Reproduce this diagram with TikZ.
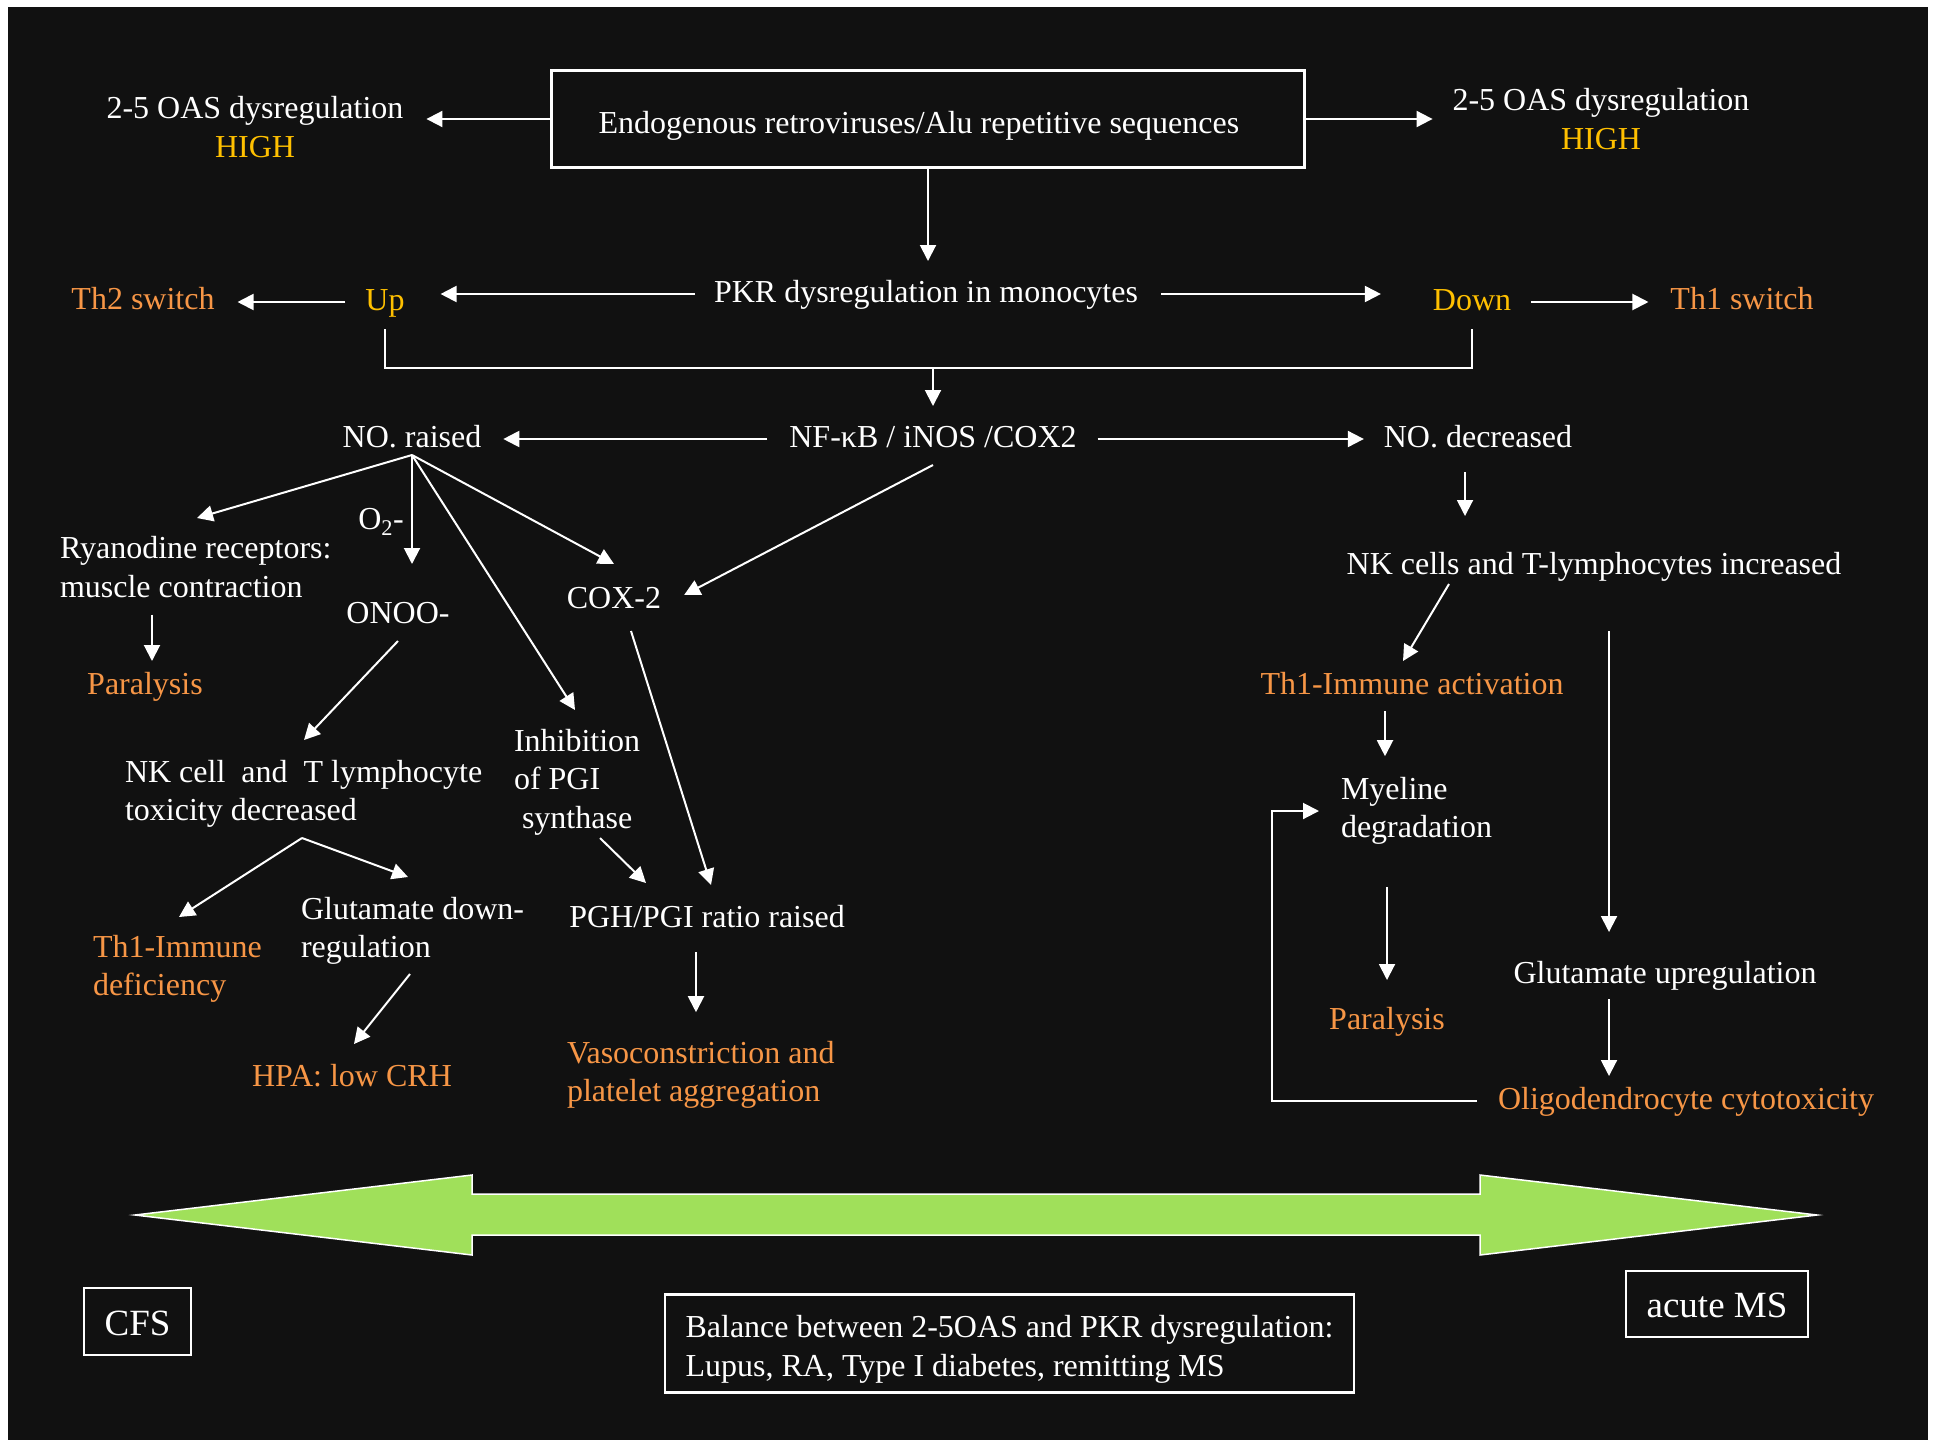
\documentclass[tikz,border=0pt]{standalone}
\usepackage{fontspec}
\setmainfont{Liberation Serif}
\usetikzlibrary{arrows.meta}

\definecolor{bg}{HTML}{111111}
\definecolor{gold}{HTML}{FFC000}
\definecolor{orng}{HTML}{F79646}
\definecolor{lime}{HTML}{A0E05A}

\begin{document}
\begin{tikzpicture}[
            x = 1pt, y = -1pt, % pixel grid, y goes down
            > = {Triangle[length=16pt, width=16pt]}, % arrow head style
            line width = 2pt,
            white,
            every node/.style = {font=\fontsize{32}{38.5}\selectfont, text=white, inner sep=0pt}
        ]

        \tikzstyle{lbl}=[text height=23pt, text depth=7pt]
        \tikzstyle{hot}=[text=orng]
        \tikzstyle{box}=[draw=white, line width=2.2pt]

        \fill[white] (0,0) rectangle (1937,1440);
        \fill[bg] (8,7) rectangle (1928,1440);

        % top
        \node[box, align=flush left, text width=659pt, inner xsep=47pt, minimum height=97pt, text height=35pt, text depth=7pt] (ERV) at (928,119) {Endogenous retroviruses/Alu repetitive sequences};
        \node[align=center] (OASl) at (255,127) {2-5 OAS dysregulation\\\textcolor{gold}{HIGH}};
        \node[align=center] (OASr) at (1601,119) {2-5 OAS dysregulation\\\textcolor{gold}{HIGH}};
        \node[lbl] (PKR) at (926,294) {PKR dysregulation in monocytes};
        \node[lbl, text=gold] (Up) at (385,302) {Up};
        \node[lbl, text=gold] (Down) at (1472,302) {Down};
        \node[lbl, hot] (Th2) at (143,301) {Th2 switch};
        \node[lbl, hot] (Th1) at (1742,301) {Th1 switch};

        % middle row
        \node[lbl] (NF) at (933,439) {NF-κB / iNOS /COX2};
        \node[lbl] (NOr) at (412,439) {NO. raised};
        \node[lbl] (NOd) at (1478,439) {NO. decreased};

        % left branch
        \node[align=left, anchor=west] (RyR) at (59,567) {Ryanodine receptors:\\muscle contraction};
        \node[lbl, hot] (Par1) at (145,686) {Paralysis};
        \node[lbl] (O2) at (381,521) {O\textsubscript{2}-};
        \node[lbl] (ONOO) at (398,615) {ONOO-};
        \node[align=left, anchor=west] (NK1) at (124,794) {NK cell\ \ and\ \ T lymphocyte\\toxicity decreased};
        \node[align=left, anchor=west, hot] (Th1d) at (92,969) {Th1-Immune\\deficiency};
        \node[align=left, anchor=west] (GluD) at (300,931) {Glutamate down-\\regulation};
        \node[lbl, hot] (HPA) at (352,1078) {HPA: low CRH};
        \node[align=left, anchor=west] (Inh) at (513,782) {Inhibition\\of PGI\\\hspace*{8pt}synthase};
        \node[lbl] (COX) at (614,600) {COX-2};
        \node[lbl] (PGH) at (707,919) {PGH/PGI ratio raised};
        \node[align=left, anchor=west, hot] (Vaso) at (566,1075) {Vasoconstriction and\\platelet aggregation};

        % right branch
        \node[lbl] (NK2) at (1594,566) {NK cells and T-lymphocytes increased};
        \node[lbl, hot] (Th1a) at (1412,686) {Th1-Immune activation};
        \node[align=left, anchor=west] (Mye) at (1340,811) {Myeline\\degradation};
        \node[lbl, hot] (Par2) at (1387,1021) {Paralysis};
        \node[lbl] (GluU) at (1665,975) {Glutamate upregulation};
        \node[lbl, hot] (Oli) at (1686,1101) {Oligodendrocyte cytotoxicity};

        % bottom
        \draw[fill=lime, line width=1.5pt] (135,1215) -- (472,1175) -- (472,1194) -- (1480,1194) -- (1480,1175)
            -- (1817,1215) -- (1480,1255) -- (1480,1235) -- (472,1235) -- (472,1255) -- cycle;
        \node[box, minimum width=107pt, minimum height=67pt, font=\fontsize{37}{44}\selectfont, text height=27pt, text depth=0pt] (CFS) at (137.5,1321.5) {CFS};
        \node[box, align=left, minimum width=689pt, minimum height=98pt, text height=72pt, text depth=7pt] (Bal) at (1009.5,1343.5) {Balance between 2-5OAS and PKR dysregulation:\\Lupus, RA, Type I diabetes, remitting MS};
        \node[box, minimum width=182pt, minimum height=66pt, font=\fontsize{37}{44}\selectfont, text height=27pt, text depth=0pt] (MS) at (1717,1304) {acute MS};

        \coordinate (J) at (933,368);
        \coordinate (NKs) at ([shift={(178,44)}]NK1.west);

        \path[->] (ERV.west) edge[shorten >=22pt] (ERV.west -| OASl.east);
        \path[->] (ERV.east) edge[shorten >=19pt] (ERV.east -| OASr.west);
        \path[->] (ERV.south) edge[shorten >=17pt] (ERV.south |- PKR.north);
        \path[->] (PKR.west) edge[shorten <=18pt, shorten >=35pt] (PKR.west -| Up.east);
        \path[->] (PKR.east) edge[shorten <=22pt, shorten >=51pt] (PKR.east -| Down.west);
        \path[->] (Up.west) edge[shorten <=19pt, shorten >=22pt] (Up.west -| Th2.east);
        \path[->] (Down.east) edge[shorten <=19pt, shorten >=21pt] (Down.east -| Th1.west);

        \draw[shorten <=11pt] (Up.south) |- (J);
        \draw[shorten <=11pt] (Down.south) |- (J);
        \path[->] (J) edge[shorten >=17pt] (J |- NF.north);

        \path[->] (NF.west) edge[shorten <=21pt, shorten >=21pt] (NF.west -| NOr.east);
        \path[->] (NF.east) edge[shorten <=20pt, shorten >=19pt] (NF.east -| NOd.west);

        \path[->] (NOr.south) edge ([shift={(138,-49)}]RyR.west);
        \path[->] (NOr.south) edge[shorten >=35pt] (NOr.south |- ONOO.north);
        \path[->] (NOr.south) edge ([shift={(62,-72)}]Inh.west);
        \path[->] (NOr.south) edge ([shift={(0,-20)}]COX.north);
        \path[->] ([yshift=-10pt]NF.south) edge ([shift={(22,-5)}]COX.east);

        \path[->] ([xshift=7pt]Par1.north |- RyR.south) edge[shorten <=16pt, shorten >=9pt] ([xshift=7pt]Par1.north);
        \path[->] ([yshift=-10pt]ONOO.south) edge ([shift={(180,-54)}]NK1.west);
        \path[->] (NKs) edge ([shift={(87,-52)}]Th1d.west);
        \path[->] (NKs) edge ([shift={(108,-54)}]GluD.west);
        \path[->] ([shift={(110,43)}]GluD.west) edge ([shift={(2,-18)}]HPA.north);
        \path[->] ([shift={(87,56)}]Inh.west) edge ([shift={(-61,-20)}]PGH.north);
        \path[->] ([shift={(17,15)}]COX.south) edge ([shift={(4,-18)}]PGH.north);
        \path[->] ([shift={(-11,17)}]PGH.south) edge[shorten >=28pt] ([xshift=-11pt]PGH.south |- Vaso.north);

        \path[->] ([shift={(-13,17)}]NOd.south) edge[shorten >=34pt] ([xshift=-13pt]NOd.south |- NK2.north);
        \path[->] ([shift={(-145,2)}]NK2.south) edge ([shift={(-9,-9)}]Th1a.north);
        \path[->] ([shift={(15,49)}]NK2.south) edge[shorten >=27pt] ([xshift=15pt]NK2.south |- GluU.north);
        \path[->] ([shift={(-27,9)}]Th1a.south) edge[shorten >=20pt] ([xshift=-27pt]Th1a.south |- Mye.north);
        \path[->] (Par2.north |- Mye.south) edge[shorten <=41pt, shorten >=25pt] (Par2.north);
        \path[->] ([xshift=-56pt]GluU.south) edge[shorten <=8pt, shorten >=9pt] ([xshift=-56pt]GluU.south |- Oli.north);
        \draw[->, shorten <=20pt, shorten >=21pt] (Oli.west) -- ++(-225,0) |- (Mye.west);

    \end{tikzpicture}
\end{document}
